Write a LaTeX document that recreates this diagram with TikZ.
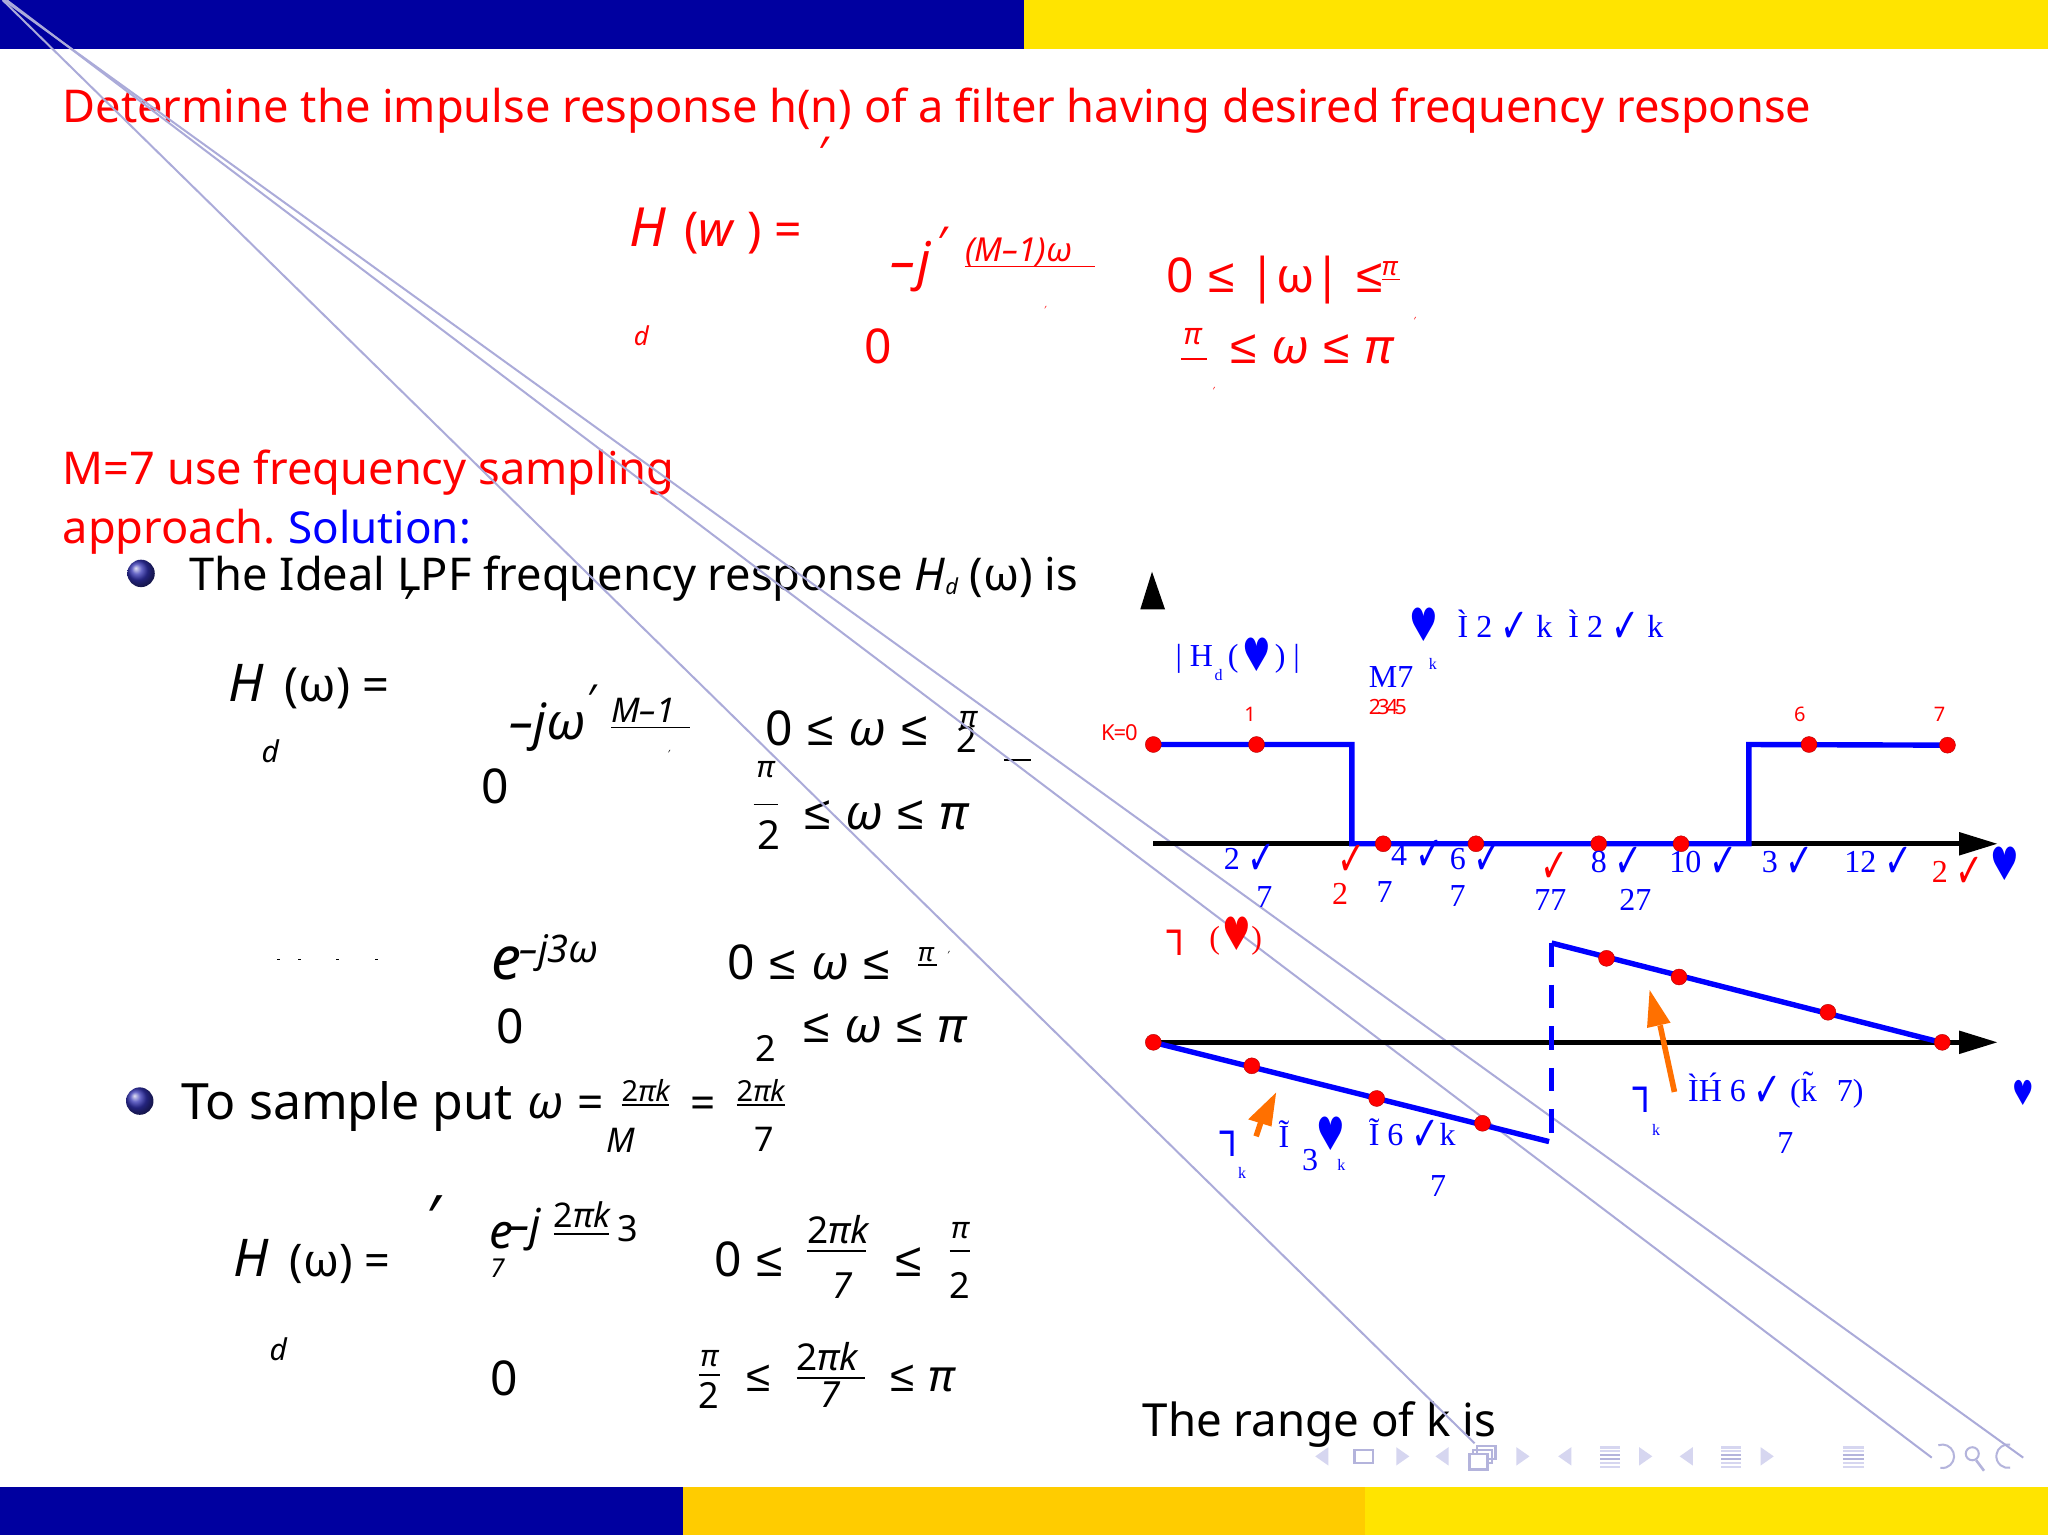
\documentclass[tikz,border=0pt]{standalone}
\usepackage{fontspec}
\setmainfont{Noto Sans}
\newfontfamily\djv{DejaVu Sans}
\newfontfamily\tms{Liberation Serif}
\newfontfamily\lib{Liberation Sans}
\definecolor{barblue}{HTML}{0000A0}
\definecolor{baryel}{HTML}{FFE400}
\definecolor{barora}{HTML}{FFCC00}
\definecolor{diag}{HTML}{ABABD9}
\definecolor{navl}{HTML}{D6D6F0}
\definecolor{navd}{HTML}{B4B4DC}
\definecolor{arr}{HTML}{FF7000}
\definecolor{rd}{HTML}{FF0000}
\definecolor{bl}{HTML}{0000FF}
\newcount\tcnt
\tikzset{
  lab/.style={inner sep=0pt,outer sep=0pt},
  bluewave/.style={draw=bl,line width=2.7pt,line join=miter},
  axisline/.style={draw=black,line width=2.6pt},
  diagline/.style={draw=diag,line width=1pt},
  navline/.style={draw=navd,line width=1pt},
  rdot/.style={circle,fill=rd,draw=red!70!black,line width=.2pt,minimum size=8pt,inner sep=0pt},
  tip/.style={fill=black},
  orangearrow/.style={draw=arr,line width=2.8pt},
  orangehead/.style={fill=arr},
}
\newcommand{\tw}[4]{\global\advance\tcnt by 1 \node[lab,anchor=base west] (t\the\tcnt) at (#1,#2) {\fontsize{#3pt}{#3pt}\selectfont #4};}
\newcommand{\tcn}[4]{\global\advance\tcnt by 1 \node[lab,anchor=base] (t\the\tcnt) at (#1,#2) {\fontsize{#3pt}{#3pt}\selectfont #4};}
\newcommand{\tm}[4]{\global\advance\tcnt by 1 \node[lab,anchor=center] (t\the\tcnt) at (#1,#2) {\fontsize{#3pt}{#3pt}\selectfont #4};}
\newcommand{\hrt}{\djv\scalebox{.8}[1.15]{♥}}
\newcommand{\ck}{{\djv\raisebox{-2.5pt}{\scalebox{1.05}[1.5]{✓}}}}
\newcommand{\lee}{{\lib\hspace{1.2pt}≤\hspace{1.2pt}}}
\newcommand{\ntri}[3]{\fill[navl] (#1,#3-7) -- (#1,#3+7) -- (#2,#3) -- cycle;}
\newcommand{\nlines}[3]{\foreach \dy/\cc in {-6/navl,-3/navl,0/navd,3/navd,6/navl,9/navl}{\draw[\cc,line width=1.3pt] (#1,#3+\dy-1) -- (#2,#3+\dy-1);}}
\begin{document}
\begin{tikzpicture}[x=0.65306pt,y=-0.65306pt]
\useasboundingbox (0,0) rectangle (1568,1177.5);
\fill[white] (0,0) rectangle (1568,1177.5);
% bars
\fill[barblue] (0,0) rectangle (784,37.5);
\fill[baryel] (784,0) rectangle (1568,37.5);
\fill[barblue] (0,1138.5) rectangle (523,1175.5);
\fill[barora] (523,1138.5) rectangle (1045,1175.5);
\fill[baryel] (1045,1138.5) rectangle (1568,1175.5);

% navigation symbols
\ntri{1017}{1007}{1115}
\ntri{1069}{1079}{1115}
\draw[navline,line width=1.2pt] (1037,1110) rectangle (1051,1120);
\ntri{1109}{1099}{1115}
\ntri{1161}{1171}{1115}
\draw[navline,line width=1.1pt] (1131,1107) rectangle (1145,1117);
\draw[navline,line width=1.1pt] (1128,1110) rectangle (1142,1120);
\draw[navline,fill=white,line width=1.2pt] (1125,1113) rectangle (1139,1125);
\ntri{1203}{1193}{1115}
\ntri{1255}{1265}{1115}
\nlines{1225}{1240}{1115}
\ntri{1296}{1286}{1115}
\ntri{1348}{1358}{1115}
\nlines{1318}{1333}{1115}
\nlines{1411}{1427}{1115}
\draw[navd,line width=1pt] (1484,1106.5) arc (-110:100:9);
\draw[navd,line width=1pt] (1510,1113) circle (5);
\draw[navd,line width=1.3pt] (1513,1118) -- (1519,1126);
\draw[navd,line width=1pt] (1539,1106) arc (-80:-280:9);

% title
\tw{48}{94}{22.6}{\color{rd}Determine the impulse response h(n) of a filter having desired frequency response}
\tw{626}{129}{22}{\color{rd}\itshape\bfseries ′}
% first equation
\tw{482}{189}{27}{\color{rd}\itshape H}
\tw{524}{189}{24}{\color{rd}(\textit{w} ) =}
\tm{491}{257}{13}{\color{rd}\itshape d}
\tw{682}{214}{26}{\color{rd}\itshape –\hspace{1pt}j}
\tw{717}{198}{22}{\color{rd}\itshape ′}
\tw{739}{200}{16.5}{\color{rd}\itshape (M–1)ω}
\draw[rd,line width=.9pt] (739,204) -- (838,204);
\tm{800}{237}{5}{\color{rd}\itshape ′}
\tm{672}{265}{24}{\color{rd}0}
\tw{893}{224}{24}{\color{rd}0 \lee{} |ω| \lee}
\tw{1058}{211}{13}{\color{rd}\itshape π}
\draw[rd,line width=.8pt] (1058,214) -- (1072,214);
\tm{1083}{246}{5}{\color{rd}\itshape ′}
\tm{913}{258}{15}{\color{rd}\itshape π}
\draw[rd,line width=.9pt] (904,275) -- (924,275);
\tw{940}{278}{24}{\color{rd}\lee{} \textit{ω} \lee{} \textit{π}}
\tm{929}{299}{5}{\color{rd}\itshape ′}

% M=7
\tw{48}{371}{22.6}{\color{rd}M=7 use frequency sampling}
\tw{48}{416}{22.6}{\color{rd}approach.}
\tw{221}{416}{22}{\color{bl}Solution:}

% bullets
\shade[ball color=barblue!80!white] (108,439) circle (10.5);
\shade[ball color=barblue!80!white] (107,843) circle (10.5);

\tw{145}{452}{22.6}{The Ideal LPF frequency response \textit{H\raisebox{-2pt}{\fontsize{11pt}{11pt}\selectfont d}} (ω) is}
\tw{308}{474}{22}{\itshape\bfseries ′}

% second equation
\tw{175}{537}{26}{\itshape H}
\tw{218}{537}{23.5}{(ω) =}
\tm{207}{575}{15}{\itshape d}
\tw{390}{566}{25}{\itshape –jω}
\tw{449}{546}{20}{\itshape ′}
\tw{468}{553}{17}{\itshape M–1}
\draw[black,line width=.9pt] (468,557) -- (528,557);
\tm{512}{577}{5}{\itshape ′}
\tm{379}{602}{24}{0}
\tw{586}{571}{24}{0 \lee{} \textit{ω} \lee}
\tm{741}{551}{15}{\itshape π}
\tm{740}{566}{18}{2}
\draw[black,line width=.9pt] (769,582) -- (789,582);
\tm{586}{589}{15}{\itshape π}
\draw[black,line width=.9pt] (577,616) -- (596,616);
\tm{589}{639}{20}{2}
\tw{614}{635}{24}{\lee{} \textit{ω} \lee{} \textit{π}}

% third equation
\foreach \xx in {212,228,257,287}{\fill (\xx,734) rectangle ++(2.5,1.2);}
\tw{376}{750}{30}{\itshape e}
\tw{398}{737}{19}{\itshape –j3ω}
\tw{557}{750}{24}{0 \lee{} \textit{ω} \lee}
\tw{703}{736}{13}{\itshape π}
\draw[black,line width=.8pt] (703,739) -- (717,739);
\tm{726}{731}{5}{\itshape ′}
\tm{391}{786}{24}{0}
\tm{586}{803}{18}{2}
\tw{613}{798}{24}{\lee{} \textit{ω} \lee{} \textit{π}}

% to sample
\tw{139}{857}{25}{To sample put}
\tw{404}{856}{23}{\itshape ω}
\tw{442}{856}{23}{=}
\tw{476}{843}{14.5}{2\textit{πk}}
\draw[black,line width=.9pt] (476,846) -- (512,846);
\tm{475}{873}{17}{\itshape M}
\tw{529}{856}{22}{=}
\tw{564}{843}{14.5}{2\textit{πk}}
\draw[black,line width=.9pt] (564,846) -- (601,846);
\tm{585}{872}{17}{7}

% fourth equation
\tw{326}{948}{30}{\bfseries\itshape ′}
\tw{179}{977}{26}{\itshape H}
\tw{222}{977}{22.5}{(ω) =}
\tm{213}{1033}{15}{\itshape d}
\tw{375}{956}{24}{\itshape e}
\tw{389}{950}{22}{\itshape –j}
\tw{424}{940}{17}{2\textit{πk}}
\draw[black,line width=1pt] (424,945) -- (466,945);
\tm{481}{941}{18}{3}
\tm{381}{971}{13}{\itshape 7}
\tw{547}{977}{24}{0 \lee}
\tw{618}{952}{18.5}{2\textit{πk}}
\draw[black,line width=1.2pt] (618,958) -- (663,958);
\tm{645}{984}{18}{\itshape 7}
\tw{684}{977}{24}{\lee}
\tm{735}{942}{15}{\itshape π}
\draw[black,line width=.9pt] (727,958) -- (743,958);
\tm{735}{984}{18}{2}
\tm{386}{1055}{24}{0}
\tm{543}{1040}{15}{\itshape π}
\draw[black,line width=1pt] (535,1053) -- (551,1053);
\tm{543}{1068}{18}{2}
\tw{570}{1065}{22}{\lee}
\tw{610}{1049}{18.5}{2\textit{πk}}
\draw[black,line width=1.2pt] (610,1055) -- (662,1055);
\tm{636}{1068}{18}{\itshape 7}
\tw{680}{1065}{22}{\lee{} \textit{π}}
\tw{875}{1100}{22.8}{The range of k is}

% diagonal lines
\draw[diagline] (2,0) -- (1129,1105);
\draw[diagline] (5,0) -- (1479,1116);
\draw[diagline] (3,0) -- (1549,1116);

% graph 1
\fill[tip] (882,437.7) -- (892,466.6) -- (873,466.6) -- cycle;
\draw[axisline] (883,646) -- (1502,646);
\fill[tip] (1529,646) -- (1500,637) -- (1500,655) -- cycle;
\draw[bluewave] (883,570) -- (1035,570) -- (1035,646) -- (1339,646) -- (1339,570) -- (1491,570.5);
\foreach \px/\py in {883/570,962/570,1385/570,1491/570.5,1059/646,1130/646,1224/646,1287/646}{\node[rdot] at (\px,\py) {};}

\tw{900}{510}{16}{\tms\color{bl}| H}
\tw{930}{521}{8}{\tms\color{bl}d}
\tw{940}{510}{16}{\tms\color{bl}(}
\tm{962}{501}{20}{\color{bl}\hrt}
\tw{976}{510}{16}{\tms\color{bl}) |}
\tm{1090}{478}{20}{\color{bl}\hrt}
\tw{1116}{488}{16}{\tms\color{bl}Ì 2 \ck{} k\hspace{4pt} Ì 2 \ck{} k}
\tm{1097}{508}{8}{\tms\color{bl}k}
\tw{1048}{526}{16}{\tms\color{bl}M7}
\tw{1048}{547}{10.5}{\color{rd}\addfontfeatures{LetterSpace=-16}2345}
\tm{957}{547}{10}{\color{rd}1}
\tm{857}{561}{11}{\color{rd}\addfontfeatures{LetterSpace=-5}K=0}
\tm{1378}{547}{10}{\color{rd}6}
\tm{1485}{547}{10}{\color{rd}7}
\tw{937}{666}{16}{\tms\color{bl}2 \ck}
\tm{1035}{659}{16}{\tms\color{rd}\ck}
\tw{1065}{663}{16}{\tms\color{bl}4 \ck}
\tw{1110}{666}{16}{\tms\color{bl}6 \ck}
\tm{1190}{664}{16}{\tms\color{rd}\ck}
\tw{1218}{668}{16}{\tms\color{bl}8 \ck}
\tw{1278}{668}{16}{\tms\color{bl}10 \ck}
\tw{1349}{668}{16}{\tms\color{bl}3 \ck}
\tw{1412}{668}{16}{\tms\color{bl}12 \ck}
\tw{1479}{676}{16}{\tms\color{rd}2 \ck}
\tm{1535}{661}{20}{\color{bl}\hrt}
\tm{968}{687}{16}{\tms\color{bl}7}
\tm{1026}{684}{16}{\tms\color{rd}2}
\tm{1060}{683}{16}{\tms\color{bl}7}
\tm{1116}{686}{16}{\tms\color{bl}7}
\tm{1187}{689}{16}{\tms\color{bl}77}
\tm{1252}{689}{16}{\tms\color{bl}27}

% graph 2
\tm{903}{722}{20}{\djv\color{rd}┐}
\tw{926}{726}{16}{\tms\color{rd}(}
\tm{947}{714.5}{20}{\color{rd}\hrt}
\tw{958}{726}{16}{\tms\color{rd})}
\draw[axisline] (883,798) -- (1502,798);
\fill[tip] (1529,798) -- (1500,789) -- (1500,807) -- cycle;
\draw[bluewave] (883,798) -- (1186,874);
\draw[bluewave] (1188,722) -- (1486,798);
\draw[bluewave,dash pattern=on 11.8pt off 9pt] (1188,722) -- (1188,874);
\foreach \px/\py in {883/798,958.4/816,1054/841,1135/860,1230/733.7,1285.5/748,1399.5/775,1487/798}{\node[rdot] at (\px,\py) {};}
% orange arrows
\draw[orangearrow] (961.7,870) -- (969,848);
\fill[orangehead] (977,836.5) -- (973.5,862.5) -- (955.6,857) -- cycle;
\draw[orangearrow] (1282,836) -- (1271,785);
\fill[orangehead] (1263,758) -- (1279,783) -- (1261,787) -- cycle;
\tm{944}{876}{20}{\djv\color{bl}┐}
\tm{951}{898}{8}{\tms\color{bl}k}
\tm{983}{868}{16}{\tms\color{bl}Ĩ}
\tm{1003}{888}{16}{\tms\color{bl}3}
\tm{1019}{868}{20}{\color{bl}\hrt}
\tm{1027}{892}{8}{\tms\color{bl}k}
\tw{1048}{877}{16}{\tms\color{bl}Ĩ 6 \ck{}k}
\tm{1101}{908}{16}{\tms\color{bl}7}
\tm{1260}{842}{20}{\djv\color{bl}┐}
\tm{1268}{865}{8}{\tms\color{bl}k}
\tw{1292.5}{843}{16}{\tms\color{bl}ÌH́ 6 \ck{} (k̃\hspace{6pt} 7)}
\tm{1367}{875}{16}{\tms\color{bl}7}
\tm{1549}{836.5}{15}{\color{bl}\hrt}
\end{tikzpicture}
\end{document}
